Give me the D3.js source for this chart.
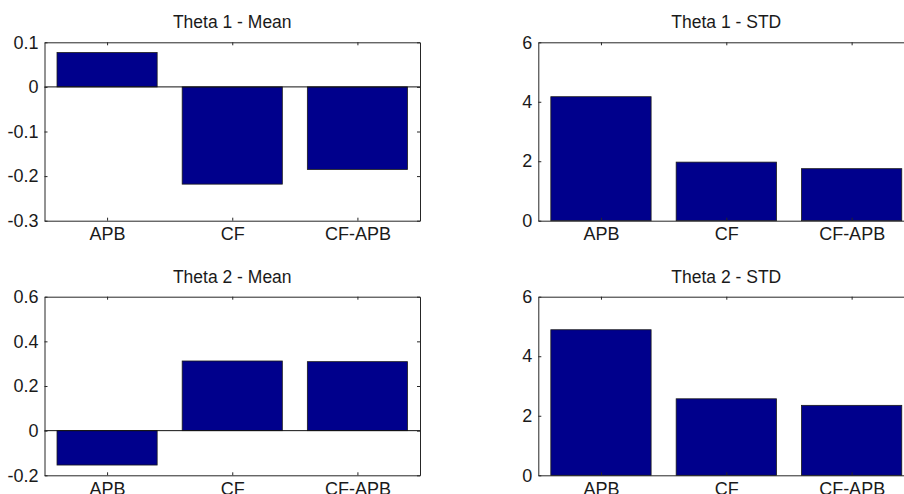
<!DOCTYPE html>
<html>
<head>
<meta charset="utf-8">
<script src="https://cdn.jsdelivr.net/npm/d3@7"></script>
<style>
  body { margin: 0; background: #fff; }
  svg { display: block; font-family: "Liberation Sans", Arial, sans-serif; }
  .axis path, .axis line { stroke: #262626; }
  .axis text { fill: #1a1a1a; font-size: 18px; }
</style>
</head>
<body>
<div id="chart"></div>
<script>
var categories = ['APB', 'CF', 'CF-APB'];
var theta1Mean = [0.077, -0.218, -0.185];
var theta1Std = [4.17, 1.97, 1.75];
var theta2Mean = [-0.154, 0.312, 0.309];
var theta2Std = [4.89, 2.57, 2.35];
var meanTicks1 = [-0.3, -0.2, -0.1, 0, 0.1];
var meanTicks2 = [-0.2, 0, 0.2, 0.4, 0.6];
var stdTicks = [0, 2, 4, 6];

var width = 904, height = 494;
var svg = d3.select('#chart').append('svg').attr('width', width).attr('height', height);

var panels = [
  {title: 'Theta 1 - Mean', values: theta1Mean, ticks: meanTicks1, x: 44.5, y: 42.3, w: 375.5, h: 178.4},
  {title: 'Theta 1 - STD', values: theta1Std, ticks: stdTicks, x: 538.3, y: 42.3, w: 376, h: 178.4},
  {title: 'Theta 2 - Mean', values: theta2Mean, ticks: meanTicks2, x: 44.5, y: 296.7, w: 375.5, h: 178.6},
  {title: 'Theta 2 - STD', values: theta2Std, ticks: stdTicks, x: 538.3, y: 296.7, w: 376, h: 178.6}
];

function fmt(d) {
  return String(+d.toFixed(1));
}

panels.forEach(function(p) {
  var g = svg.append('g').attr('transform', 'translate(' + p.x + ',' + p.y + ')');
  var x = d3.scaleLinear().domain([0.5, categories.length + 0.5]).range([0, p.w]);
  var y = d3.scaleLinear().domain(d3.extent(p.ticks)).range([p.h, 0]);
  var barW = x(1.4) - x(0.6);

  g.selectAll('rect.bar')
    .data(p.values)
    .enter()
    .append('rect')
    .attr('class', 'bar')
    .attr('x', function(d, i) { return x(i + 1) - barW / 2; })
    .attr('y', function(d) { return y(Math.max(0, d)); })
    .attr('width', barW)
    .attr('height', function(d) { return Math.abs(y(d) - y(0)); })
    .attr('fill', '#00008c')
    .attr('stroke', '#1a1a1a')
    .attr('stroke-width', 0.8);

  // zero line
  if (y.domain()[0] < 0) {
    g.append('line')
      .attr('x1', 0).attr('x2', p.w)
      .attr('y1', y(0)).attr('y2', y(0))
      .attr('stroke', '#111').attr('stroke-width', 1);
  }

  var idx = categories.map(function(c, i) { return i + 1; });

  g.append('g').attr('class', 'axis')
    .attr('transform', 'translate(0,' + p.h + ')')
    .call(d3.axisBottom(x).tickValues(idx).tickSizeInner(-3).tickSizeOuter(0).tickPadding(7)
      .tickFormat(function(d) { return categories[d - 1]; }));
  g.append('g').attr('class', 'axis')
    .call(d3.axisTop(x).tickValues(idx).tickSizeInner(-3).tickSizeOuter(0).tickFormat(''));
  g.append('g').attr('class', 'axis')
    .call(d3.axisLeft(y).tickValues(p.ticks).tickSizeInner(-3).tickSizeOuter(0).tickPadding(6)
      .tickFormat(fmt));
  g.append('g').attr('class', 'axis')
    .attr('transform', 'translate(' + p.w + ',0)')
    .call(d3.axisRight(y).tickValues(p.ticks).tickSizeInner(-3).tickSizeOuter(0).tickFormat(''));

  g.append('text')
    .attr('x', p.w / 2)
    .attr('y', -14)
    .attr('text-anchor', 'middle')
    .attr('font-size', 17.5)
    .attr('fill', '#1a1a1a')
    .text(p.title);
});
</script>
</body>
</html>
